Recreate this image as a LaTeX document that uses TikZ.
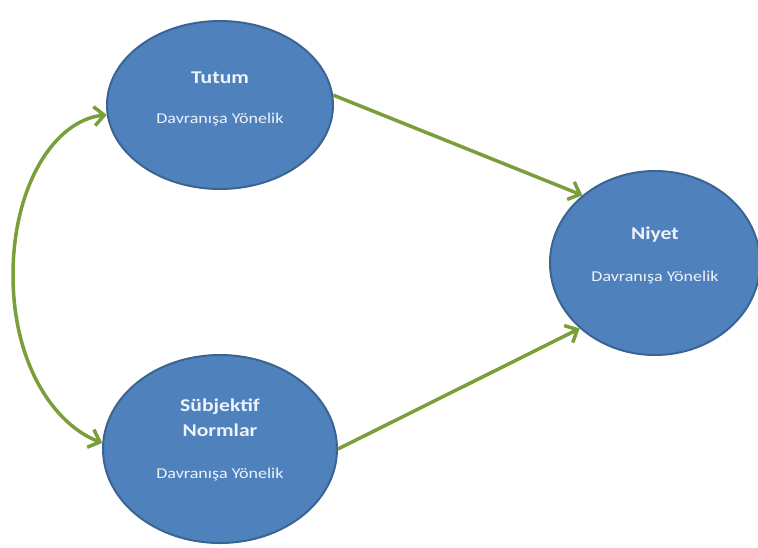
\documentclass[tikz,border=0pt]{standalone}
\usepackage{fontspec}
\setmainfont{Carlito}
\newfontfamily\genis[FakeStretch=1.2]{Carlito}
\usepackage{xcolor}
\usetikzlibrary{shapes.geometric,arrows.meta,positioning}
\definecolor{ovalmavi}{HTML}{4F81BD}
\definecolor{ovalkenar}{HTML}{3A6593}
\definecolor{okyesil}{HTML}{7A9E3A}
\definecolor{yazirenk}{HTML}{EEF3FA}

\begin{document}
\begin{tikzpicture}[
    x=1pt, y=-1pt,
    oval/.style={ellipse, fill=ovalmavi, draw=ovalkenar, line width=2pt},
    baslik/.style={text=yazirenk, font=\genis\bfseries\fontsize{18}{25}\selectfont, align=center},
    altyazi/.style={text=yazirenk, font=\genis\fontsize{15}{17}\selectfont},
    ok/.style={draw=okyesil, line width=3.5pt, -{Straight Barb[length=10pt,width=19pt]}},
    ]
    \useasboundingbox (0,0) rectangle (758,547);

    %Nodes
    \node[oval, minimum width=226, minimum height=168] (tutum) at (220,105) {};
    \node[oval, minimum width=210, minimum height=184] (niyet) at (655,263) {};
    \node[oval, minimum width=234, minimum height=188] (subj)  at (220,449) {};

    % Text labels (inside nodes)
    \node[baslik]  (tutumbaslik) at (220,78)  {Tutum};
    \node[altyazi] (tutumalt)    at (220,120) {Davranışa Yönelik};
    \node[baslik]  (niyetbaslik) at (655,235) {Niyet};
    \node[altyazi] (niyetalt)    at (655,278) {Davranışa Yönelik};
    \node[baslik]  (subjbaslik)  at (220,418) {Sübjektif\\Normlar};
    \node[altyazi] (subjalt)     at (220,475) {Davranışa Yönelik};

    %Lines
    \draw[ok] (tutum.5)   -- (niyet.137);
    \draw[ok] (subj.east) -- (niyet.221);
    \draw[ok, {Straight Barb[length=10pt,width=19pt]}-{Straight Barb[length=10pt,width=19pt]}]
        (tutum.185) .. controls (55,120) and (13,185) .. (13,275)
                    .. controls (13,365) and (55,425) .. (subj.177);
\end{tikzpicture}
\end{document}
